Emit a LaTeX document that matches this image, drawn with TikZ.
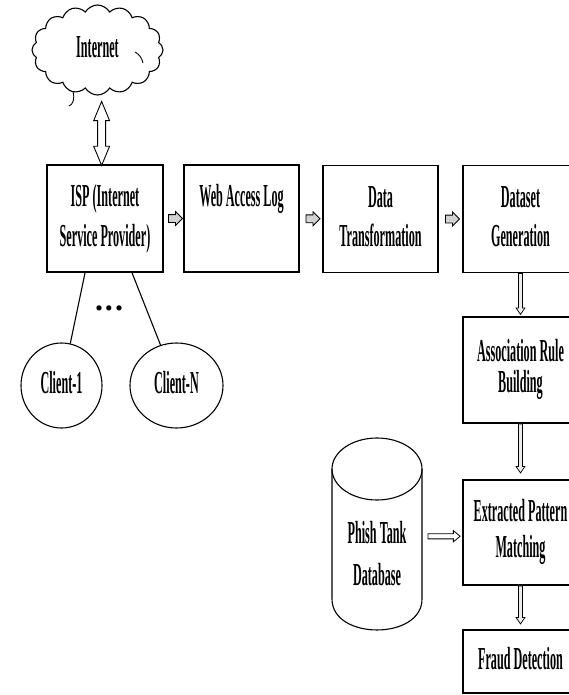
\documentclass[tikz,border=0pt]{standalone}
\usepackage{fontspec}
\setmainfont{Liberation Serif}
\usepackage{graphicx}
\usetikzlibrary{shapes.arrows,shapes.symbols,shapes.geometric,calc}
\newcommand\txfont{\bfseries\fontsize{32}{32}\selectfont}
\newcommand\tx[2][1.22]{\scalebox{.38}[1]{\def\arraystretch{#1}\begin{tabular}{@{}c@{}}#2\end{tabular}}}
\begin{document}
\begin{tikzpicture}[x=1pt,y=-1pt,line width=1.1pt,
  box/.style={draw,rectangle,minimum width=115,minimum height=107,inner sep=0pt,font=\txfont},
  client/.style={draw,ellipse,minimum height=85,inner sep=0pt,font=\txfont},
  harrow/.style={single arrow,draw,fill=gray!35,minimum height=14,minimum width=13,inner sep=3.5pt,single arrow head extend=3pt,line width=0.8pt},
  varrow/.style={single arrow,draw,fill=gray!15,shape border rotate=270,inner sep=1.6pt,single arrow head extend=2.6pt,single arrow tip angle=70,line width=0.7pt},
  darrow/.style={double arrow,draw,fill=white,shape border rotate=90,minimum height=64,minimum width=15,inner sep=3.5pt,double arrow head extend=4pt,double arrow tip angle=45,line width=0.9pt},
  parrow/.style={single arrow,draw,fill=white,minimum height=32,inner sep=2.2pt,single arrow head extend=3pt,single arrow tip angle=80,line width=0.8pt}]
\useasboundingbox (0,0) rectangle (569,695);

% cloud
\node[cloud,draw,cloud puffs=16,cloud puff arc=120,cloud ignores aspect,minimum width=131,minimum height=90,inner sep=0pt,font=\txfont] (inet) at (97.5,50) {\tx{Internet}};
\draw[line width=0.9pt] (73,91) .. controls (75,98) and (73,105) .. (69,106);
\draw[line width=0.9pt] (135,52) .. controls (139,54) and (142,58) .. (143,63);

% top row
\node[box,minimum width=116] (isp) at (105,218.5) {\tx[1.25]{ISP (Internet\\Service Provider)}};
\node[box] (wal) at (241.5,218.5) {\tx{Web Access Log\\\mbox{}}};
\node[box] (dt) at (380.5,219) {\tx{Data\\Transformation}};
\node[box] (dg) at (520.5,219) {\tx{Dataset\\Generation}};

% right column
\node[box,minimum height=106] (arb) at (520.5,370) {\tx[0.85]{Association Rule\\Building}};
\node[box,minimum height=105] (epm) at (520.5,532.5) {\tx[1.1]{Extracted Pattern\\Matching}};
\node[box,minimum height=63] (fd) at (520.5,661.5) {\tx{Fraud Detection}};

% clients
\node[client,minimum width=81] (c1) at (61.5,385.5) {\tx{Client-1}};
\node[client,minimum width=93] (cn) at (176.5,385.5) {\tx{Client-N}};
\node[font=\txfont,inner sep=0pt] (dots) at (109,308) {.\hspace{2pt}.\hspace{2pt}.};
\draw ($(isp.south west)!0.33!(isp.south east)$) -- (c1);
\draw ($(isp.south west)!0.73!(isp.south east)$) -- (cn);

% database cylinder
\node[minimum width=90,minimum height=192,inner sep=0pt] (db) at (377,534) {};
\draw (332,469) -- (332,599) .. controls (332,640.3) and (422,640.3) .. (422,599) -- (422,469);
\draw (377,469) ellipse [x radius=45,y radius=31];
\node[font=\txfont,inner sep=0pt] (dbt) at (377,556) {\tx[1.3]{Phish Tank\\Database}};

% arrows
\path (inet.south) -- (isp.north) node[pos=0.55,darrow] {};
\path (isp.east) -- (wal.west) node[midway,harrow] {};
\path (wal.east) -- (dt.west) node[midway,harrow] {};
\path (dt.east) -- (dg.west) node[midway,harrow] {};
\path (dg.south) -- (arb.north) node[at start,anchor=tail,varrow,minimum height=41] {};
\path (arb.south) -- (epm.north) node[at start,anchor=tail,varrow,minimum height=49] {};
\path (epm.south) -- (fd.north) node[at start,anchor=tail,varrow,minimum height=38] {};
\path ($(db.east)+(0,3)$) -- ($(epm.west)+(0,3)$) node[midway,parrow] {};
\end{tikzpicture}
\end{document}
